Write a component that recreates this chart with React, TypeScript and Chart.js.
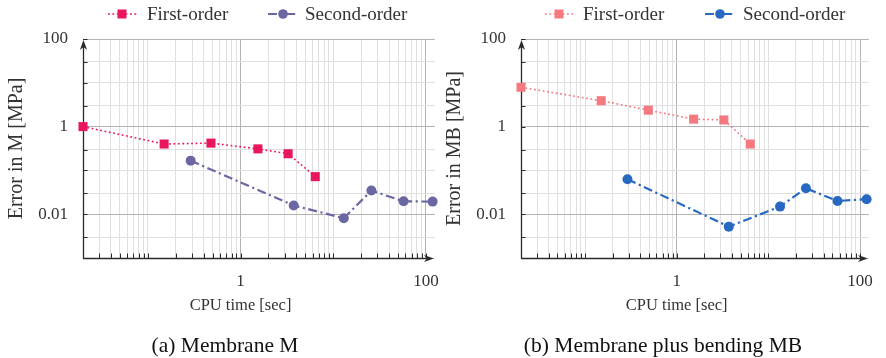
import React, { useEffect, useRef } from 'react';
import { Chart, registerables } from 'chart.js';

Chart.register(...registerables);

// ---------- data ----------
const firstM_x = [0.02, 0.15, 0.48, 1.54, 3.26, 6.4];
const firstM_y = [1.0, 0.4, 0.42, 0.31, 0.24, 0.072];
const secondM_x = [0.29, 3.75, 13.0, 25.8, 57.4, 118];
const secondM_y = [0.167, 0.0158, 0.0081, 0.0346, 0.0197, 0.0194];

const firstMB_x = [0.02, 0.15, 0.49, 1.53, 3.27, 6.34];
const firstMB_y = [7.9, 3.9, 2.37, 1.48, 1.42, 0.4];
const secondMB_x = [0.29, 3.7, 13.4, 25.7, 56.8, 118];
const secondMB_y = [0.063, 0.0052, 0.0149, 0.039, 0.02, 0.022];

const xTickValues = [
  0.02, 0.03, 0.04, 0.05, 0.06, 0.07, 0.08, 0.09,
  0.1, 0.2, 0.3, 0.4, 0.5, 0.6, 0.7, 0.8, 0.9,
  1, 2, 3, 4, 5, 6, 7, 8, 9,
  10, 20, 30, 40, 50, 60, 70, 80, 90,
  100,
];
const xLabeled = [1, 100];
const xTickLabels = ['1', '100'];
const yTickValues = [0.001, 0.003, 0.01, 0.03, 0.1, 0.3, 1, 3, 10, 30, 100];
const yLabeled = [0.01, 1, 100];
const yTickLabels = ['0.01', '1', '100'];

const seriesNames = ['First-order', 'Second-order'];
const xTitle = 'CPU time [sec]';
const yTitles = ['Error in M [MPa]', 'Error in MB [MPa]'];
const captions = ['(a) Membrane M', '(b) Membrane plus bending MB'];

const X_MIN = 0.02;
const X_MAX = 125;
const Y_MIN = 0.001;
const Y_MAX = 100;

const FONT = '"Liberation Serif", "DejaVu Serif", serif';

const same = (a: number, b: number) => Math.abs(Math.log10(a) - Math.log10(b)) < 1e-6;
const idxIn = (arr: number[], v: number) => arr.findIndex((m) => same(m, v));

type Spec = {
  fx: number[]; fy: number[]; sx: number[]; sy: number[];
  c1: string; c2: string;
  width: number; padLeft: number; padRight: number;
  yTitle: string; yTitleX: number;
  caption: string; captionX: number;
  legend: { x0: number; x1: number; mx: number; tx: number }[];
};

const DASH1 = [1.8, 2.6];
const DASH2 = [9, 3.5, 2.2, 3.5];

function arrow(ctx: CanvasRenderingContext2D, x: number, y: number, dir: 'up' | 'right') {
  ctx.beginPath();
  if (dir === 'up') {
    ctx.moveTo(x, y);
    ctx.lineTo(x - 3.6, y + 10);
    ctx.lineTo(x, y + 7);
    ctx.lineTo(x + 3.6, y + 10);
  } else {
    ctx.moveTo(x, y);
    ctx.lineTo(x - 10, y - 3.6);
    ctx.lineTo(x - 7, y);
    ctx.lineTo(x - 10, y + 3.6);
  }
  ctx.closePath();
  ctx.fill();
}

function makeChart(canvas: HTMLCanvasElement, spec: Spec) {
  const decor = {
    id: 'decor',
    beforeDatasetsDraw(chart: any) {
      const ctx: CanvasRenderingContext2D = chart.ctx;
      const { left, right, top, bottom } = chart.chartArea;
      const xs = chart.scales.x;
      const ys = chart.scales.y;
      ctx.save();
      ctx.strokeStyle = '#2a2a2a';
      ctx.fillStyle = '#2a2a2a';
      ctx.lineWidth = 1;
      // inward ticks
      ctx.beginPath();
      for (const v of yTickValues) {
        if (same(v, Y_MIN)) continue;
        const py = Math.round(ys.getPixelForValue(v)) + 0.5;
        ctx.moveTo(left, py);
        ctx.lineTo(left + 4.5, py);
      }
      for (const v of xTickValues) {
        if (same(v, X_MIN)) continue;
        const px = Math.round(xs.getPixelForValue(v)) + 0.5;
        ctx.moveTo(px, bottom);
        ctx.lineTo(px, bottom - 4.5);
      }
      ctx.stroke();
      // axis lines
      ctx.lineWidth = 1.3;
      ctx.beginPath();
      ctx.moveTo(left + 0.5, bottom + 0.5);
      ctx.lineTo(left + 0.5, top + 5);
      ctx.moveTo(left, bottom + 0.5);
      ctx.lineTo(right - 5, bottom + 0.5);
      ctx.stroke();
      arrow(ctx, left + 0.5, top + 1, 'up');
      arrow(ctx, right - 1, bottom + 0.5, 'right');
      ctx.restore();
    },
    afterDraw(chart: any) {
      const ctx: CanvasRenderingContext2D = chart.ctx;
      const { top, bottom } = chart.chartArea;
      const xs = chart.scales.x;
      ctx.save();
      // legend
      const colors = [spec.c1, spec.c2];
      const dashes = [DASH1, DASH2];
      const widths = [1.6, 2.2];
      spec.legend.forEach((it, i) => {
        const ly = 14;
        ctx.strokeStyle = colors[i];
        ctx.fillStyle = colors[i];
        ctx.lineWidth = widths[i];
        ctx.setLineDash(dashes[i]);
        ctx.beginPath();
        ctx.moveTo(it.x0, ly);
        ctx.lineTo(it.x1, ly);
        ctx.stroke();
        ctx.setLineDash([]);
        ctx.beginPath();
        if (i === 0) {
          ctx.rect(it.mx - 4.5, ly - 4.5, 9, 9);
        } else {
          ctx.arc(it.mx, ly, 4.8, 0, Math.PI * 2);
        }
        ctx.fill();
        ctx.fillStyle = '#333';
        ctx.font = `19px ${FONT}`;
        ctx.textAlign = 'left';
        ctx.textBaseline = 'middle';
        ctx.fillText(seriesNames[i], it.tx, ly + 1);
      });
      // x title
      ctx.fillStyle = '#333';
      ctx.font = `16.5px ${FONT}`;
      ctx.textAlign = 'center';
      ctx.textBaseline = 'middle';
      ctx.fillText(xTitle, xs.getPixelForValue(1), 306);
      // y title
      ctx.font = `20px ${FONT}`;
      ctx.save();
      ctx.translate(spec.yTitleX, (top + bottom) / 2);
      ctx.rotate(-Math.PI / 2);
      ctx.fillText(spec.yTitle, 0, 0);
      ctx.restore();
      // caption
      ctx.fillStyle = '#111';
      ctx.font = `21.5px ${FONT}`;
      ctx.fillText(spec.caption, spec.captionX, 346);
      ctx.restore();
    },
  };

  const gridColor = (labeled: number[]) => (c: any) =>
    c.tick && idxIn(labeled, c.tick.value) >= 0 ? '#b3b3b3' : '#e0e0e0';

  return new Chart(canvas, {
    type: 'line',
    data: {
      datasets: [
        {
          label: seriesNames[0],
          data: spec.fx.map((x, i) => ({ x, y: spec.fy[i] })),
          borderColor: spec.c1,
          backgroundColor: spec.c1,
          borderWidth: 1.6,
          borderDash: DASH1,
          pointStyle: 'rect',
          pointRadius: 6.4,
          pointHoverRadius: 6.4,
          pointBorderWidth: 0,
          tension: 0,
          clip: false as any,
        },
        {
          label: seriesNames[1],
          data: spec.sx.map((x, i) => ({ x, y: spec.sy[i] })),
          borderColor: spec.c2,
          backgroundColor: spec.c2,
          borderWidth: 2.2,
          borderDash: DASH2,
          pointStyle: 'circle',
          pointRadius: 5,
          pointHoverRadius: 5,
          pointBorderWidth: 0,
          tension: 0,
          clip: false as any,
        },
      ],
    },
    options: {
      responsive: false,
      animation: false,
      devicePixelRatio: 1,
      events: [],
      layout: { padding: { left: spec.padLeft, right: spec.padRight, top: 39, bottom: 60 } },
      plugins: { legend: { display: false }, tooltip: { enabled: false } },
      scales: {
        x: {
          type: 'logarithmic',
          min: X_MIN,
          max: X_MAX,
          afterBuildTicks: (s: any) => {
            s.ticks = xTickValues.map((v) => ({ value: v }));
          },
          afterFit: (s: any) => {
            s.height = 40;
          },
          grid: { color: gridColor(xLabeled), lineWidth: 1, drawTicks: false },
          border: { display: false },
          ticks: {
            autoSkip: false,
            maxRotation: 0,
            padding: 13,
            color: '#333',
            font: { family: FONT, size: 17 },
            callback: (v: any) => {
              const i = idxIn(xLabeled, Number(v));
              return i >= 0 ? xTickLabels[i] : '';
            },
          },
        },
        y: {
          type: 'logarithmic',
          min: Y_MIN,
          max: Y_MAX,
          afterBuildTicks: (s: any) => {
            s.ticks = yTickValues.map((v) => ({ value: v }));
          },
          afterFit: (s: any) => {
            s.width = 50;
          },
          grid: { color: gridColor(yLabeled), lineWidth: 1, drawTicks: false },
          border: { display: false },
          ticks: {
            autoSkip: false,
            padding: 15,
            color: '#333',
            font: { family: FONT, size: 17 },
            callback: (v: any) => {
              const i = idxIn(yLabeled, Number(v));
              return i >= 0 ? yTickLabels[i] : '';
            },
          },
        },
      },
    },
    plugins: [decor as any],
  } as any);
}

const specM: Spec = {
  fx: firstM_x, fy: firstM_y, sx: secondM_x, sy: secondM_y,
  c1: '#e8175d', c2: '#6b67a3',
  width: 452, padLeft: 33, padRight: 12,
  yTitle: yTitles[0], yTitleX: 17,
  caption: captions[0], captionX: 225,
  legend: [
    { x0: 108, x1: 137, mx: 122, tx: 147 },
    { x0: 268, x1: 298, mx: 283, tx: 305 },
  ],
};

const specMB: Spec = {
  fx: firstMB_x, fy: firstMB_y, sx: secondMB_x, sy: secondMB_y,
  c1: '#f47a80', c2: '#2769c0',
  width: 443, padLeft: 28, padRight: 9,
  yTitle: yTitles[1], yTitleX: 12,
  caption: captions[1], captionX: 220,
  legend: [
    { x0: 102, x1: 130, mx: 116, tx: 140 },
    { x0: 262, x1: 292, mx: 277, tx: 300 },
  ],
};

function Panel({ spec, left }: { spec: Spec; left: number }) {
  const ref = useRef<HTMLCanvasElement>(null);
  useEffect(() => {
    if (!ref.current) return;
    const ch = makeChart(ref.current, spec);
    return () => ch.destroy();
  }, [spec]);
  return (
    <canvas
      ref={ref}
      width={spec.width}
      height={358}
      style={{ position: 'absolute', left, top: 0, width: spec.width, height: 358 }}
    />
  );
}

export default function App() {
  return (
    <div style={{ position: 'absolute', left: 0, top: 0, width: 886, height: 358, background: '#fff', overflow: 'hidden' }}>
      <Panel spec={specM} left={0} />
      <Panel spec={specMB} left={443} />
    </div>
  );
}
